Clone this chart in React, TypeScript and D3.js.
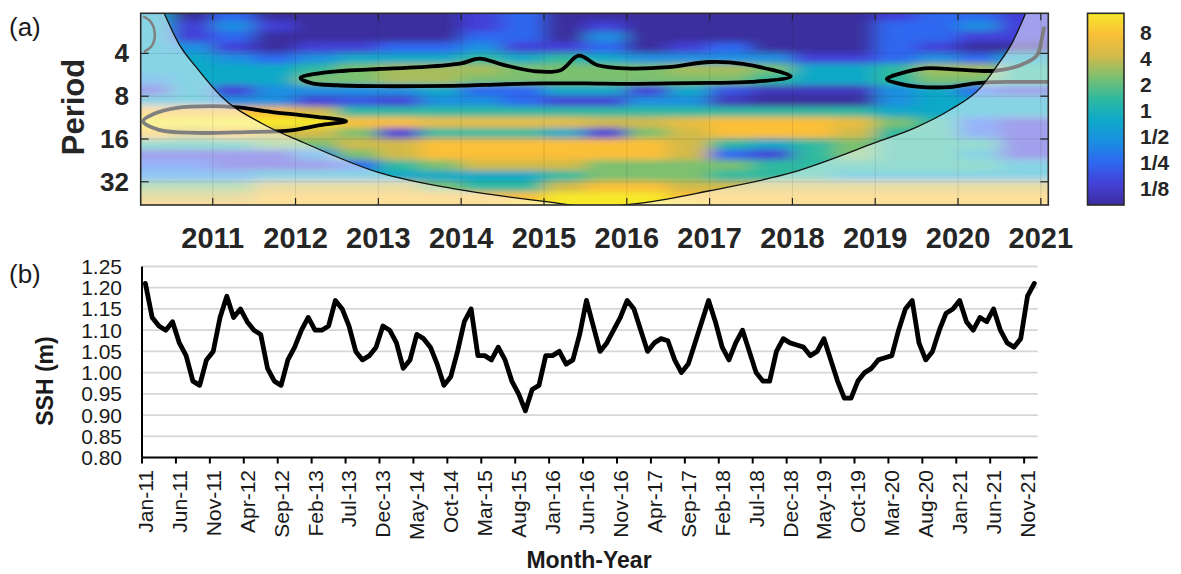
import React, { useEffect, useRef } from 'react';
import * as d3 from 'd3';

// ---- panel (a): wavelet power ----
const yearTicks = [2011, 2012, 2013, 2014, 2015, 2016, 2017, 2018, 2019, 2020, 2021];
const periodTicks = [4, 8, 16, 32];
const colorbarTicks = [8, 4, 2, 1, 0.5, 0.25, 0.125];
const colorbarLabels = ['8', '4', '2', '1', '1/2', '1/4', '1/8'];

// parula-like colours, one per power level (0 = 1/8 and below, 9 = 8 and above)
const levelColors = ['#3b2d9e', '#4341d8', '#2e68f0', '#1a8fe0', '#0ea9c8',
	'#2fb9a0', '#7cc070', '#d2ba4a', '#fbbf38', '#f6e82a'];

// grid of power levels: columns are half-year centres, rows are periods (months)
const powerYears = [2010.25, 2010.75, 2011.25, 2011.75, 2012.25, 2012.75, 2013.25, 2013.75,
	2014.25, 2014.75, 2015.25, 2015.75, 2016.25, 2016.75, 2017.25, 2017.75, 2018.25, 2018.75,
	2019.25, 2019.75, 2020.25, 2020.75];
const powerPeriods = [2.18, 2.59, 3.08, 3.67, 4.36, 5.19, 6.17, 7.34, 8.72, 10.4, 12.3, 14.7,
	17.4, 20.7, 24.7, 29.3, 34.9, 41.5, 49.4];
const powerLevels = [
	[4, 0, 2, 0, 0, 0, 0, 0, 1, 2, 0, 0, 0, 0, 0, 0, 0, 0, 1, 2, 2, 1],
	[4, 1, 3, 1, 0, 0, 0, 0, 1, 2, 0, 1, 0, 0, 0, 0, 0, 0, 2, 2, 3, 1],
	[4, 1, 2, 0, 0, 0, 0, 0, 2, 2, 0, 3, 0, 0, 0, 0, 0, 0, 2, 2, 1, 1],
	[4, 3, 1, 0, 1, 1, 2, 2, 3, 1, 1, 2, 0, 1, 2, 0, 0, 0, 2, 1, 0, 0],
	[4, 4, 3, 2, 3, 4, 4, 4, 5, 4, 5, 4, 3, 3, 3, 3, 1, 1, 2, 3, 2, 4],
	[4, 4, 4, 4, 5, 6, 6.5, 6.5, 6.5, 6, 6, 6, 6, 6.5, 6.5, 6, 4, 4, 5, 6.5, 6.5, 5],
	[3, 4, 4, 4, 6, 6, 6.5, 6.5, 6, 6, 6, 6, 6, 6, 6, 5, 4, 4, 5, 6, 6, 5],
	[1, 4, 1, 3, 3, 3, 3, 4, 2, 2, 4, 4, 1, 4, 1.5, 0.5, 0.5, 0.5, 3, 4, 2, 1],
	[4, 4, 3, 3, 1, 1.5, 1, 3, 3, 2, 1, 1, 3, 3, 0.5, 0, 0, 0, 3, 4, 4, 4],
	[8, 8, 8, 8, 7, 5, 5, 5, 5, 5, 5, 5, 5, 5, 5, 5, 5, 5, 4, 4, 4, 4],
	[9, 9, 9, 9, 9, 8, 8, 7.5, 7.5, 7.5, 7.5, 7, 7, 7.5, 8, 8, 8, 7.5, 6, 5, 2, 1],
	[8, 7, 8, 7, 7, 6, 1, 5, 5, 5, 4, 1, 6, 7, 8, 8, 8, 7, 5, 5, 2, 1],
	[5, 5, 5, 6, 6, 7, 7, 8, 8, 8, 8, 8, 8, 7, 5, 4, 5, 6, 5, 5, 5, 1],
	[1, 1, 1, 1, 3, 6, 7, 8, 8, 8, 8, 8, 8, 7, 2, 1, 5, 6, 5, 5, 4, 1],
	[2, 2, 1, 1, 1, 2, 5, 6, 7, 7, 7, 6, 6, 6, 6, 5, 5, 5, 5, 5, 5, 4],
	[3, 3, 3, 4, 4, 4, 4, 4, 4, 4, 5, 6, 6, 6, 5, 5, 5, 4, 4, 4, 4, 4],
	[6, 6, 6, 7, 7, 7, 7, 6, 5, 5, 7, 8, 8, 7, 7, 7, 7, 7, 7, 7, 7, 7],
	[7, 7, 7, 8, 8, 8, 8, 8, 8, 8, 9, 9, 9, 8, 8, 8, 8, 8, 8, 8, 8, 8],
	[8, 8, 8, 8, 8, 8, 8, 8, 8, 9, 9, 9, 9, 9, 8, 8, 8, 8, 8, 8, 8, 8],
];

// cone of influence [year, period]
const coiPoints = [[2010.40, 2.0], [2010.6, 3.5], [2010.8, 5.0], [2011.1, 8.0], [2011.6, 12.5],
	[2012.1, 17.0], [2013.0, 27.5], [2014.0, 36.5], [2015.0, 44.0], [2015.6, 48.0], [2016.2, 45.0],
	[2017.0, 37.0], [2018.0, 27.5], [2019.0, 17.0], [2019.5, 13.2], [2019.9, 10.0], [2020.27, 7.0],
	[2020.47, 4.9], [2020.65, 3.4], [2020.83, 2.0]];

// significance contours [year, period]
const contourMain = [[2012.06, 5.95], [2012.3, 5.5], [2012.6, 5.3], [2013.0, 5.15], [2013.5, 5.0],
	[2014.0, 4.7], [2014.22, 4.35], [2014.5, 4.8], [2014.9, 5.35], [2015.2, 5.25], [2015.42, 4.15],
	[2015.65, 4.85], [2016.0, 5.1], [2016.5, 5.0], [2017.0, 4.6], [2017.4, 4.75], [2017.98, 5.8],
	[2017.5, 6.35], [2017.0, 6.45], [2016.5, 6.5], [2016.0, 6.55], [2015.5, 6.5], [2015.0, 6.5],
	[2014.5, 6.6], [2014.0, 6.75], [2013.5, 6.8], [2013.0, 6.8], [2012.5, 6.7], [2012.2, 6.5]];
const contourLeft = [[2010.16, 12.0], [2010.3, 10.6], [2010.55, 9.7], [2011.0, 9.4], [2011.3, 9.6],
	[2011.7, 10.3], [2012.2, 11.1], [2012.61, 12.0], [2012.3, 12.8], [2011.95, 13.9], [2011.4, 14.3],
	[2010.8, 14.5], [2010.35, 13.8]];
const contourRight = [[2021.12, 6.35], [2020.6, 6.35], [2020.2, 6.5], [2019.9, 6.9], [2019.5, 6.85],
	[2019.3, 6.55], [2019.14, 6.05], [2019.3, 5.55], [2019.6, 5.1], [2020.0, 5.2], [2020.45, 5.3],
	[2020.75, 4.85], [2020.95, 4.15], [2021.01, 3.2], [2021.04, 2.6]];
const contourHook = [[2010.16, 2.2], [2010.25, 2.4], [2010.3, 2.9], [2010.27, 3.5], [2010.17, 3.9]];

// ---- panel (b): monthly SSH (m), Jan-2011 .. Dec-2021 ----
const sshValues = [
	1.21, 1.13, 1.11, 1.10, 1.12, 1.07, 1.04, 0.98, 0.97, 1.03, 1.05, 1.13,
	1.18, 1.13, 1.15, 1.12, 1.10, 1.09, 1.01, 0.98, 0.97, 1.03, 1.06, 1.10,
	1.13, 1.10, 1.10, 1.11, 1.17, 1.15, 1.11, 1.05, 1.03, 1.04, 1.06, 1.11,
	1.10, 1.07, 1.01, 1.03, 1.09, 1.08, 1.06, 1.02, 0.97, 0.99, 1.05, 1.12,
	1.15, 1.04, 1.04, 1.03, 1.06, 1.03, 0.98, 0.95, 0.91, 0.96, 0.97, 1.04,
	1.04, 1.05, 1.02, 1.03, 1.09, 1.17, 1.11, 1.05, 1.07, 1.10, 1.13, 1.17,
	1.15, 1.10, 1.05, 1.07, 1.08, 1.075, 1.03, 1.00, 1.02, 1.07, 1.12, 1.17,
	1.12, 1.06, 1.03, 1.07, 1.10, 1.05, 1.00, 0.98, 0.98, 1.05, 1.08, 1.07,
	1.065, 1.06, 1.04, 1.05, 1.08, 1.03, 0.98, 0.94, 0.94, 0.98, 1.00, 1.01,
	1.03, 1.035, 1.04, 1.10, 1.15, 1.17, 1.07, 1.03, 1.05, 1.10, 1.14, 1.15,
	1.17, 1.12, 1.10, 1.13, 1.12, 1.15, 1.10, 1.07, 1.06, 1.08, 1.18, 1.21,
];
const sshTicks = [0.80, 0.85, 0.90, 0.95, 1.00, 1.05, 1.10, 1.15, 1.20, 1.25];
const monthLabels = d3.timeMonth.range(new Date(2011, 0, 1), new Date(2022, 0, 1))
	.map(d3.timeFormat('%b-%y'));
const monthTickEvery = 5;

const font = 'Liberation Sans, Arial, sans-serif';

const drawWavelet = (svg, defs) => {
	const left = 140.7, right = 1048.3, top = 13.3, bottom = 205;
	const x = d3.scaleLinear().domain([2010.13, 2021.09]).range([left, right]);
	const y = d3.scaleLog().base(2).domain([2.09, 46.6]).range([top, bottom]);
	const color = d3.scaleLinear().domain(d3.range(levelColors.length)).range(levelColors);

	defs.append('clipPath').attr('id', 'heat-clip')
		.append('rect').attr('x', left).attr('y', top)
		.attr('width', right - left).attr('height', bottom - top);
	defs.append('filter').attr('id', 'heat-blur')
		.attr('filterUnits', 'userSpaceOnUse')
		.attr('x', 60).attr('y', -60).attr('width', 1100).attr('height', 340)
		.append('feGaussianBlur').attr('stdDeviation', '10 3');

	const colEdge = (i) => {
		if (i === 0) return left - 50;
		if (i === powerYears.length) return right + 50;
		return (x(powerYears[i - 1]) + x(powerYears[i])) / 2;
	};
	const rowEdge = (j) => {
		if (j === 0) return top - 30;
		if (j === powerPeriods.length) return bottom + 30;
		return y(Math.sqrt(powerPeriods[j - 1] * powerPeriods[j]));
	};
	const cells = powerLevels.flatMap((row, j) => row.map((v, i) => ({ i, j, v })));

	const clipped = svg.append('g').attr('clip-path', 'url(#heat-clip)');
	clipped.append('g').attr('filter', 'url(#heat-blur)')
		.selectAll('rect').data(cells).enter().append('rect')
		.attr('x', (d) => colEdge(d.i) - 0.5)
		.attr('y', (d) => rowEdge(d.j) - 0.5)
		.attr('width', (d) => colEdge(d.i + 1) - colEdge(d.i) + 1)
		.attr('height', (d) => rowEdge(d.j + 1) - rowEdge(d.j) + 1)
		.attr('fill', (d) => color(d.v));

	const closed = d3.line().x((d) => x(d[0])).y((d) => y(d[1])).curve(d3.curveCatmullRomClosed);
	const open = d3.line().x((d) => x(d[0])).y((d) => y(d[1])).curve(d3.curveCatmullRom);
	[[contourMain, closed], [contourLeft, closed], [contourRight, open], [contourHook, open]]
		.forEach(([pts, gen]) => {
			clipped.append('path').attr('d', gen(pts))
				.attr('fill', 'none').attr('stroke', '#000')
				.attr('stroke-width', (pts === contourHook) ? 2.5 : 3.8)
				.attr('stroke-linejoin', 'round');
		});

	// lighten everything outside the cone of influence
	const coiLine = d3.line().x((d) => x(d[0])).y((d) => y(d[1])).curve(d3.curveMonotoneX);
	const first = coiPoints[0], last = coiPoints[coiPoints.length - 1];
	const coiArea = `${ coiLine(coiPoints) }L${ x(last[0]) },${ top - 20 }L${ x(first[0]) },${ top - 20 }Z`;
	clipped.append('path')
		.attr('d', `M${ left },${ top }H${ right }V${ bottom }H${ left }Z${ coiArea }`)
		.attr('fill', '#fff').attr('fill-opacity', 0.5).attr('fill-rule', 'evenodd');
	clipped.append('path').attr('d', coiLine(coiPoints))
		.attr('fill', 'none').attr('stroke', '#111').attr('stroke-width', 1.3);

	// grid and inward ticks
	const grid = svg.append('g').attr('stroke', '#222');
	yearTicks.forEach((t) => {
		grid.append('line').attr('x1', x(t)).attr('x2', x(t)).attr('y1', top).attr('y2', bottom)
			.attr('stroke-opacity', 0.15).attr('stroke-width', 0.8);
		grid.append('line').attr('x1', x(t)).attr('x2', x(t)).attr('y1', bottom).attr('y2', bottom - 7)
			.attr('stroke-width', 1.2);
		grid.append('line').attr('x1', x(t)).attr('x2', x(t)).attr('y1', top).attr('y2', top + 7)
			.attr('stroke-width', 1.2);
	});
	periodTicks.forEach((p) => {
		grid.append('line').attr('x1', left).attr('x2', right).attr('y1', y(p)).attr('y2', y(p))
			.attr('stroke-opacity', 0.15).attr('stroke-width', 0.8);
		grid.append('line').attr('x1', left).attr('x2', left + 8).attr('y1', y(p)).attr('y2', y(p))
			.attr('stroke-width', 1.2);
		grid.append('line').attr('x1', right).attr('x2', right - 8).attr('y1', y(p)).attr('y2', y(p))
			.attr('stroke-width', 1.2);
	});
	svg.append('rect').attr('x', left).attr('y', top)
		.attr('width', right - left).attr('height', bottom - top)
		.attr('fill', 'none').attr('stroke', '#2b2b2b').attr('stroke-width', 1.6);

	svg.append('g').selectAll('text').data(yearTicks).enter().append('text')
		.attr('x', (d) => x(d)).attr('y', 238)
		.attr('text-anchor', 'middle').attr('dominant-baseline', 'central')
		.attr('font-family', font).attr('font-size', 29).attr('font-weight', 'bold')
		.attr('fill', '#262626').text((d) => d);
	svg.append('g').selectAll('text').data(periodTicks).enter().append('text')
		.attr('x', 129).attr('y', (d) => y(d))
		.attr('text-anchor', 'end').attr('dominant-baseline', 'central')
		.attr('font-family', font).attr('font-size', 26).attr('font-weight', 'bold')
		.attr('fill', '#262626').text((d) => d);
	svg.append('text')
		.attr('transform', 'translate(73,107) rotate(-90)')
		.attr('text-anchor', 'middle').attr('dominant-baseline', 'central')
		.attr('font-family', font).attr('font-size', 31).attr('font-weight', 'bold')
		.attr('fill', '#262626').text('Period');

	// colour bar
	const cbLeft = 1087.5, cbRight = 1124, cbTop = 13.3, cbBottom = 205;
	const cb = d3.scaleLog().base(2).domain([0.0795, 13.3]).range([cbBottom, cbTop]);
	const grad = defs.append('linearGradient').attr('id', 'cb-grad')
		.attr('x1', 0).attr('y1', 1).attr('x2', 0).attr('y2', 0);
	levelColors.forEach((c, i) => {
		grad.append('stop').attr('offset', i / (levelColors.length - 1)).attr('stop-color', c);
	});
	svg.append('rect').attr('x', cbLeft).attr('y', cbTop)
		.attr('width', cbRight - cbLeft).attr('height', cbBottom - cbTop)
		.attr('fill', 'url(#cb-grad)').attr('stroke', '#2b2b2b').attr('stroke-width', 1.6);
	svg.append('g').selectAll('text').data(colorbarTicks).enter().append('text')
		.attr('x', 1140).attr('y', (d) => cb(d))
		.attr('dominant-baseline', 'central')
		.attr('font-family', font).attr('font-size', 21).attr('font-weight', 'bold')
		.attr('fill', '#262626').text((d, i) => colorbarLabels[i]);
};

const drawSsh = (svg) => {
	const left = 142, right = 1037.7, top = 266.5, bottom = 457.5;
	const x = d3.scaleBand().domain(monthLabels).range([left, right]);
	const y = d3.scaleLinear().domain([0.80, 1.25]).range([bottom, top]);
	const half = x.bandwidth() / 2;

	svg.append('g').selectAll('line').data(sshTicks.slice(1)).enter().append('line')
		.attr('x1', left).attr('x2', right).attr('y1', (d) => y(d)).attr('y2', (d) => y(d))
		.attr('stroke', '#d6d6d6').attr('stroke-width', 1.8);

	const line = d3.line().x((d, i) => x(monthLabels[i]) + half).y((d) => y(d));
	svg.append('path').attr('d', line(sshValues))
		.attr('fill', 'none').attr('stroke', '#000').attr('stroke-width', 4.8)
		.attr('stroke-linejoin', 'round').attr('stroke-linecap', 'round');

	svg.append('line').attr('x1', left).attr('x2', left).attr('y1', top).attr('y2', bottom)
		.attr('stroke', '#000').attr('stroke-width', 2);
	svg.append('line').attr('x1', left).attr('x2', right).attr('y1', bottom).attr('y2', bottom)
		.attr('stroke', '#000').attr('stroke-width', 2);

	const ticked = monthLabels.filter((d, i) => i % monthTickEvery === 0);
	svg.append('g').selectAll('line').data(ticked).enter().append('line')
		.attr('x1', (d) => x(d)).attr('x2', (d) => x(d)).attr('y1', bottom).attr('y2', bottom + 6)
		.attr('stroke', '#000').attr('stroke-width', 2);
	svg.append('g').selectAll('text').data(ticked).enter().append('text')
		.attr('transform', (d) => `translate(${ x(d) + half },470) rotate(-90)`)
		.attr('text-anchor', 'end').attr('dominant-baseline', 'central')
		.attr('font-family', font).attr('font-size', 21).attr('fill', '#1a1a1a')
		.text((d) => d);

	svg.append('g').selectAll('text').data(sshTicks).enter().append('text')
		.attr('x', 122).attr('y', (d) => y(d))
		.attr('text-anchor', 'end').attr('dominant-baseline', 'central')
		.attr('font-family', font).attr('font-size', 21).attr('fill', '#1a1a1a')
		.text((d) => d.toFixed(2));

	svg.append('text')
		.attr('transform', 'translate(45,381) rotate(-90)')
		.attr('text-anchor', 'middle').attr('dominant-baseline', 'central')
		.attr('font-family', font).attr('font-size', 23).attr('font-weight', 'bold')
		.attr('fill', '#1a1a1a').text('SSH (m)');
	svg.append('text')
		.attr('x', 589).attr('y', 560)
		.attr('text-anchor', 'middle').attr('dominant-baseline', 'central')
		.attr('font-family', font).attr('font-size', 23).attr('font-weight', 'bold')
		.attr('fill', '#1a1a1a').text('Month-Year');
};

const App = () => {
	const ref = useRef(null);

	useEffect(() => {
		document.body.style.margin = '0';
		const svg = d3.select(ref.current);
		svg.selectAll('*').remove();
		const defs = svg.append('defs');
		drawWavelet(svg, defs);
		drawSsh(svg);
		[['(a)', 36], ['(b)', 283]].forEach(([t, yy]) => {
			svg.append('text').attr('x', 9).attr('y', yy)
				.attr('font-family', font).attr('font-size', 26).attr('fill', '#1a1a1a').text(t);
		});
	}, []);

	return (
		<svg ref={ ref } width={ 1181 } height={ 574 }
			style={{ display: 'block', background: '#fff' }}/>
	);
};

export default App;
